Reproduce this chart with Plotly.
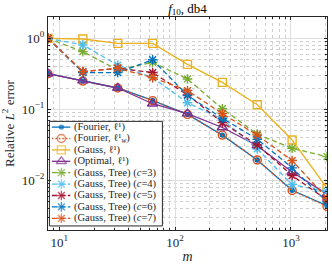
import plotly.graph_objects as go

# ---------------- data ----------------
m = [8, 16, 32, 64, 128, 256, 512, 1024, 2048]
fourier_l1 = [0.318, 0.25, 0.2, 0.134, 0.085, 0.0434, 0.0194, 0.00726, 0.0044]
fourier_l1w = [0.318, 0.25, 0.2, 0.133, 0.085, 0.0434, 0.0194, 0.0072, 0.0043]
gauss_l1 = [1.0, 0.98, 0.85, 0.85, 0.43, 0.24, 0.116, 0.037, 0.0078]
optimal_l1 = [0.318, 0.254, 0.2, 0.12, 0.087, 0.0556, 0.0308, 0.0131, 0.0064]
tree_c3 = [1.0, 0.65, 0.36, 0.46, 0.268, 0.102, 0.0448, 0.0283, 0.0216]
tree_c4 = [1.0, 0.81, 0.42, 0.28, 0.124, 0.0725, 0.0277, 0.0087, 0.0070]
tree_c5 = [1.0, 0.34, 0.38, 0.33, 0.16, 0.065, 0.0315, 0.0117, 0.0053]
tree_c6 = [1.0, 0.33, 0.33, 0.50, 0.157, 0.075, 0.038, 0.015, 0.005]
tree_c7 = [1.0, 0.34, 0.38, 0.28, 0.184, 0.087, 0.0434, 0.019, 0.0056]

labels = [
    "(Fourier, ℓ¹)",
    "(Fourier, ℓ¹<sub><i>w</i></sub>)",
    "(Gauss, ℓ¹)",
    "(Optimal, ℓ¹)",
    "(Gauss, Tree) (<i>c</i>=3)",
    "(Gauss, Tree) (<i>c</i>=4)",
    "(Gauss, Tree) (<i>c</i>=5)",
    "(Gauss, Tree) (<i>c</i>=6)",
    "(Gauss, Tree) (<i>c</i>=7)",
]
x_tickvals = [10, 100, 1000]
x_ticktext = ["10<sup>1</sup>", "10<sup>2</sup>", "10<sup>3</sup>"]
y_tickvals = [0.01, 0.1, 1]
y_ticktext = ["10<sup>−2</sup>", "10<sup>−1</sup>", "10<sup>0</sup>"]

# ---------------- styles ----------------
C_BLUE, C_ORANGE, C_YELLOW, C_PURPLE = "#0072BD", "#D95319", "#EDB120", "#7E2F8E"
C_GREEN, C_LBLUE, C_RED = "#77AC30", "#4DBEEE", "#A2142F"
FONT = "Liberation Serif"
DASH = "5px,3px"

series = [
    (fourier_l1, C_BLUE, "solid", "circle", 4),
    (fourier_l1w, C_ORANGE, "1.5px,2px", "circle-open", 8),
    (gauss_l1, C_YELLOW, "solid", "square-open", 8),
    (optimal_l1, C_PURPLE, "solid", "triangle-up-open", 9),
    (tree_c3, C_GREEN, DASH, "asterisk-open", 8),
    (tree_c4, C_LBLUE, DASH, "asterisk-open", 8),
    (tree_c5, C_RED, DASH, "asterisk-open", 8),
    (tree_c6, C_BLUE, DASH, "asterisk-open", 8),
    (tree_c7, C_ORANGE, DASH, "asterisk-open", 8),
]

fig = go.Figure()


def marker_of(color, symbol, size, sizes=None):
    return dict(
        symbol=symbol,
        size=sizes if sizes is not None else size,
        color=color,
        line=dict(color=color, width=1.4),
    )


for (vals, color, dash, symbol, size), lab in zip(series, labels):
    fig.add_trace(go.Scatter(
        x=m, y=vals, mode="lines+markers", name=lab, showlegend=False,
        line=dict(color=color, width=1.3, dash=dash),
        marker=marker_of(color, symbol, size),
    ))

# ---------------- custom legend (drawn on an overlay axis 0..1) ----------------
LX0, LX1, LY0, LY1 = 0.005, 0.41, 0.019, 0.51
G0, GM, G1, TX = 0.014, 0.048, 0.080, 0.086
ROW0, ROWSTEP = 0.483, 0.0535

fig.add_trace(go.Scatter(
    x=[LX0, LX1, LX1, LX0, LX0], y=[LY0, LY0, LY1, LY1, LY0],
    xaxis="x2", yaxis="y2", mode="lines", fill="toself",
    fillcolor="white", line=dict(color="#262626", width=1),
    showlegend=False, hoverinfo="skip",
))
for i, ((vals, color, dash, symbol, size), lab) in enumerate(zip(series, labels)):
    yy = ROW0 - i * ROWSTEP
    fig.add_trace(go.Scatter(
        x=[G0, GM, G1], y=[yy, yy, yy], xaxis="x2", yaxis="y2",
        mode="lines+markers", showlegend=False, hoverinfo="skip",
        line=dict(color=color, width=1.3, dash=dash),
        marker=marker_of(color, symbol, size, sizes=[0, size, 0]),
    ))
    fig.add_annotation(
        x=TX, y=yy, xref="paper", yref="paper", text=lab, showarrow=False,
        xanchor="left", yanchor="middle",
        font=dict(family=FONT, size=10.5, color="#262626"),
    )

# ---------------- axes ----------------
x_minor = [9] + [k * 10 for k in range(2, 10)] + [k * 100 for k in range(2, 10)] + [2000]
y_minor = [k * 0.001 for k in range(3, 10)] + [k * 0.01 for k in range(2, 10)] + \
          [k * 0.1 for k in range(2, 10)] + [2]

axis_common = dict(
    showline=True, linecolor="#262626", linewidth=1, mirror="allticks",
    ticks="inside", ticklen=3, tickcolor="#262626",
    showgrid=True, gridcolor="#dedede", gridwidth=1,
    tickfont=dict(family=FONT, size=13, color="#262626"),
    zeroline=False, automargin=False,
)

fig.update_layout(
    width=332, height=264,
    margin=dict(l=48, r=5, t=17, b=34),
    paper_bgcolor="white", plot_bgcolor="white",
    font=dict(family=FONT, color="#262626"),
    title=dict(text="<i>f</i><sub>10</sub>, db4", x=0.5, xref="paper",
               y=1 - 8 / 264, yref="container", yanchor="middle",
               font=dict(family=FONT, size=13, color="#000000")),
    xaxis=dict(
        type="log", range=[0.90309, 3.31133],
        tickmode="array", tickvals=x_tickvals, ticktext=x_ticktext,
        minor=dict(tickmode="array", tickvals=x_minor, ticks="inside", ticklen=2,
                   tickcolor="#262626", showgrid=True, gridcolor="#cfcfcf",
                   griddash="dot", gridwidth=1),
        title=dict(text="<i>m</i>", font=dict(family=FONT, size=14), standoff=2),
        **axis_common,
    ),
    yaxis=dict(
        type="log", range=[-2.69897, 0.30103],
        tickmode="array", tickvals=y_tickvals, ticktext=y_ticktext,
        minor=dict(tickmode="array", tickvals=y_minor, ticks="inside", ticklen=2,
                   tickcolor="#262626", showgrid=True, gridcolor="#cfcfcf",
                   griddash="dot", gridwidth=1),
        title=dict(text="Relative <i>L</i><sup>2</sup> error",
                   font=dict(family=FONT, size=13), standoff=4),
        **axis_common,
    ),
    xaxis2=dict(overlaying="x", range=[0, 1], visible=False, fixedrange=True),
    yaxis2=dict(overlaying="y", range=[0, 1], visible=False, fixedrange=True),
    showlegend=False,
)

fig.write_html(
    "out.html",
    config={"displayModeBar": False},
    post_script="document.body.style.margin='0';document.body.style.overflow='hidden';",
)
